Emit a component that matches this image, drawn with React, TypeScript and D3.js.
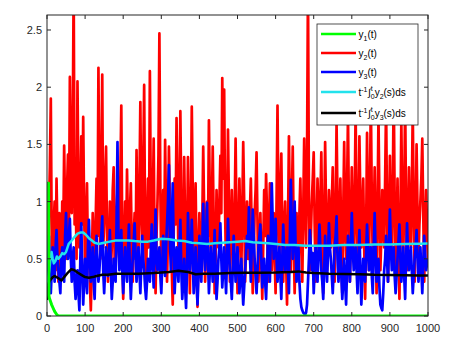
import React from "react";
import * as d3 from "d3";

// ---- data ----
const xTicks = [0, 100, 200, 300, 400, 500, 600, 700, 800, 900, 1000];
const yTicks = [0, 0.5, 1, 1.5, 2, 2.5];
const yTickLabels = ["0", "0.5", "1", "1.5", "2", "2.5"];

const STEP = 2.5; // time spacing of y2 / y3 samples

const y2Values = [
  0.5, 0.3, 0.9, 1.3, 1.9, 0.6, 0.4, 0.8, 1.0, 0.4, 1.2, 0.7, 0.3, 0.9, 0.8, 0.4, 1.0, 0.6, 1.49, 0.9, 0.5, 1.1, 1.41, 0.7, 2.09, 1.3, 0.9, 1.6, 2.9, 0.8, 1.2, 0.5, 2.05, 1.1, 0.6, 1.0, 1.57, 0.8, 1.74, 0.9,
  0.4, 0.8, 1.16, 0.5, 0.7, 0.3, 0.05, 0.4, 0.9, 0.6, 0.3, 0.8, 1.2, 0.7, 2.17, 1.0, 0.5, 1.3, 2.11, 0.6, 0.8, 1.2, 1.48, 0.7, 0.3, 0.6, 1.0, 0.4, 0.6, 1.1, 1.3, 0.5, 0.4, 0.9, 1.1, 0.6, 0.5, 1.2, 1.84, 0.7,
  0.15, 0.6, 1.0, 0.5, 1.28, 0.8, 0.4, 0.9, 1.16, 0.6, 0.3, 0.7, 0.9, 0.5, 1.45, 0.8, 0.5, 1.1, 1.87, 0.9, 0.6, 1.3, 2.02, 0.7, 0.3, 0.8, 1.2, 0.6, 2.14, 1.0, 0.5, 0.9, 1.55, 0.6, 0.2, 0.7, 1.0, 1.4, 2.47, 1.1,
  0.4, 0.8, 1.1, 0.6, 1.54, 0.9, 0.3, 0.7, 1.48, 1.0, 0.6, 0.4, 0.1, 0.7, 1.2, 0.8, 1.73, 1.1, 0.5, 0.9, 1.79, 1.0, 0.7, 0.4, 1.39, 0.8, 0.3, 0.6, 1.39, 0.7, 0.2, 0.9, 1.83, 1.1, 0.5, 0.8, 1.16, 0.5, 0.08, 0.6,
  0.9, 0.5, 0.4, 0.8, 1.48, 0.9, 0.3, 0.6, 1.0, 0.7, 1.71, 1.0, 0.5, 0.9, 1.48, 0.8, 0.2, 0.5, 1.1, 0.7, 0.6, 1.0, 1.4, 0.9, 2.08, 1.2, 1.98, 0.9, 0.4, 0.8, 1.63, 1.0, 0.3, 0.6, 1.1, 0.7, 0.5, 0.9, 1.55, 0.8,
  0.2, 0.7, 1.2, 0.8, 0.4, 0.9, 1.52, 1.0, 0.3, 0.6, 1.0, 0.5, 0.5, 0.9, 1.2, 0.7, 0.2, 0.5, 0.9, 1.1, 1.43, 0.8, 0.3, 0.6, 0.9, 0.5, 0.15, 0.6, 1.1, 0.7, 1.24, 0.9, 0.3, 0.7, 1.16, 0.8, 0.4, 0.7, 0.9, 0.5,
  0.2, 1.0, 1.84, 0.9, 0.5, 1.1, 1.42, 0.7, 0.3, 0.8, 1.0, 0.5, 0.1, 0.8, 1.57, 0.9, 0.4, 1.0, 1.48, 0.7, 0.2, 0.6, 0.9, 0.5, 0.4, 0.9, 1.2, 0.6, 0.3, 0.9, 1.55, 1.0, 0.6, 1.4, 2.9, 1.0, 0.4, 0.7, 1.0, 1.2,
  1.43, 0.8, 0.3, 0.7, 1.2, 0.9, 0.5, 1.0, 1.43, 0.7, 0.2, 0.8, 1.52, 0.9, 0.4, 0.7, 1.1, 0.8, 0.6, 1.0, 1.3, 0.7, 0.3, 0.9, 1.68, 1.0, 0.5, 0.8, 1.2, 0.6, 0.2, 0.9, 1.52, 0.8, 0.5, 1.1, 1.75, 0.9, 0.3, 0.8,
  1.3, 0.8, 0.5, 1.0, 1.8, 0.9, 0.3, 0.8, 1.57, 1.0, 0.6, 0.9, 1.2, 0.6, 0.15, 0.7, 1.6, 0.9, 0.4, 1.1, 1.9, 1.0, 0.5, 0.8, 1.3, 0.7, 0.2, 0.9, 1.75, 1.0, 0.4, 0.7, 1.1, 0.8, 0.6, 1.2, 1.85, 0.9, 0.3, 0.8,
  1.4, 0.8, 0.5, 1.1, 2.0, 1.0, 0.3, 0.7, 1.2, 0.6, 0.15, 0.8, 1.7, 0.9, 0.5, 1.0, 1.9, 0.9, 0.4, 0.8, 1.3, 0.7, 0.6, 1.1, 1.8, 0.9, 0.3, 0.8, 1.5, 0.9, 0.5, 0.8, 1.0, 1.2, 1.55, 0.9, 0.3, 0.7, 1.1, 0.8,
  0.5,
];

const y3Values = [
  0.3, 0.5, 0.7, 0.4, 0.2, 0.4, 0.6, 0.5, 0.3, 0.6, 0.75, 0.5, 0.4, 0.3, 0.2, 0.5, 0.6, 0.4, 0.3, 0.7, 0.9, 0.6, 0.5, 0.7, 0.85, 0.5, 0.3, 0.5, 0.6, 0.3, 0.15, 0.3, 0.4, 0.2, 0.05, 0.5, 0.81, 0.4, 0.1, 0.3,
  0.5, 0.35, 0.2, 0.6, 0.84, 0.5, 0.3, 0.45, 0.6, 0.3, 0.15, 0.5, 0.7, 0.45, 0.3, 0.4, 0.55, 0.7, 0.87, 0.4, 0.2, 0.4, 0.6, 0.45, 0.35, 0.5, 0.75, 0.4, 0.15, 0.3, 0.5, 0.4, 0.3, 0.8, 1.52, 0.7, 0.4, 0.55, 0.75, 0.4,
  0.2, 0.4, 0.6, 0.45, 0.3, 0.55, 0.8, 0.4, 0.15, 0.35, 0.5, 0.65, 0.81, 0.5, 0.3, 0.45, 0.6, 0.4, 0.2, 0.45, 0.7, 0.5, 0.4, 0.25, 0.15, 0.3, 0.5, 0.4, 0.3, 0.6, 0.8, 0.45, 0.25, 0.6, 0.93, 0.5, 0.4, 0.5, 0.6, 0.35,
  0.2, 0.45, 0.7, 0.5, 0.35, 0.6, 0.8, 1.0, 1.32, 0.7, 0.4, 0.8, 1.16, 0.6, 0.2, 0.4, 0.6, 0.45, 0.3, 0.6, 0.84, 0.4, 0.15, 0.3, 0.5, 0.25, 0.07, 0.4, 0.9, 0.6, 0.4, 0.6, 0.84, 0.5, 0.2, 0.4, 0.6, 0.3, 0.1, 0.35,
  0.7, 0.5, 0.3, 0.6, 0.98, 0.6, 0.4, 0.7, 0.99, 0.5, 0.2, 0.4, 0.6, 0.45, 0.3, 0.5, 0.75, 0.4, 0.15, 0.3, 0.5, 0.6, 0.81, 0.5, 0.25, 0.4, 0.6, 0.4, 0.2, 0.5, 0.85, 0.6, 0.4, 0.3, 0.15, 0.4, 0.7, 0.5, 0.3, 0.45,
  0.6, 0.4, 0.2, 0.35, 0.5, 0.3, 0.1, 0.25, 0.4, 0.55, 0.7, 0.6, 0.95, 0.55, 0.3, 0.6, 0.93, 0.7, 0.5, 0.35, 0.2, 0.4, 0.6, 0.7, 0.8, 0.5, 0.25, 0.4, 0.5, 0.3, 0.15, 0.4, 0.7, 0.5, 0.3, 0.7, 1.16, 0.8, 0.5, 0.65,
  0.85, 0.5, 0.3, 0.45, 0.6, 0.35, 0.15, 0.5, 0.8, 0.55, 0.4, 0.5, 0.6, 0.4, 0.2, 0.7, 1.19, 0.8, 0.5, 0.7, 1.0, 0.6, 0.3, 0.5, 0.6, 0.3, 0.15, 0.08, 0.05, 0.03, 0.02, 0.01, 0.03, 0.1, 0.3, 0.5, 0.75, 0.6, 0.4, 0.55,
  0.2, 0.4, 0.6, 0.45, 0.3, 0.55, 0.8, 0.6, 0.4, 0.3, 0.15, 0.4, 0.7, 0.5, 0.3, 0.55, 0.81, 0.6, 0.5, 0.35, 0.2, 0.4, 0.6, 0.7, 0.87, 0.5, 0.3, 0.45, 0.6, 0.35, 0.15, 0.3, 0.5, 0.3, 0.1, 0.4, 0.7, 0.5, 0.3, 0.6,
  0.9, 0.6, 0.4, 0.5, 0.6, 0.4, 0.2, 0.5, 0.75, 0.4, 0.1, 0.3, 0.5, 0.4, 0.3, 0.55, 0.8, 0.6, 0.4, 0.5, 0.6, 0.35, 0.2, 0.6, 0.9, 0.55, 0.3, 0.4, 0.5, 0.25, 0.1, 0.07, 0.05, 0.2, 0.4, 0.5, 0.7, 0.5, 0.3, 0.6,
  0.93, 0.6, 0.4, 0.5, 0.6, 0.35, 0.2, 0.35, 0.5, 0.65, 0.8, 0.5, 0.3, 0.45, 0.6, 0.35, 0.15, 0.5, 0.81, 0.55, 0.4, 0.5, 0.6, 0.4, 0.2, 0.35, 0.5, 0.6, 0.75, 0.5, 0.3, 0.45, 0.6, 0.4, 0.2, 0.45, 0.7, 0.55, 0.4, 0.45,
  0.5,
];

const y1Times = [0, 4, 5, 6, 9, 12, 16, 20, 25, 30, 1000];
const y1Values = [1.16, 1.16, 0.18, 0.16, 0.13, 0.1, 0.07, 0.04, 0.015, 0, 0];

const cyanTimes = [0, 3, 6, 9, 12, 15, 18, 22, 26, 30, 35, 40, 45, 50, 57, 65, 72, 80, 88, 95, 102, 110, 118, 125, 135, 150, 165, 180, 200, 215, 230, 250, 265, 280, 300, 320, 340, 360, 380, 400, 420, 440, 460, 480, 500, 520, 540, 560, 580, 600, 625, 650, 680, 700, 740, 780, 820, 860, 900, 940, 980, 1000];
const cyanValues = [0.27, 0.33, 0.4, 0.5, 0.56, 0.5, 0.46, 0.48, 0.52, 0.5, 0.52, 0.55, 0.54, 0.56, 0.63, 0.66, 0.69, 0.72, 0.73, 0.73, 0.71, 0.68, 0.66, 0.64, 0.63, 0.64, 0.65, 0.66, 0.66, 0.66, 0.655, 0.65, 0.65, 0.66, 0.675, 0.67, 0.66, 0.655, 0.64, 0.635, 0.63, 0.635, 0.64, 0.645, 0.65, 0.655, 0.645, 0.64, 0.635, 0.63, 0.62, 0.62, 0.615, 0.615, 0.615, 0.62, 0.62, 0.625, 0.625, 0.63, 0.632, 0.634];

const blackTimes = [0, 2, 4, 6, 10, 15, 20, 25, 30, 38, 45, 55, 64, 72, 80, 90, 100, 110, 120, 130, 145, 160, 180, 200, 240, 280, 300, 320, 345, 370, 390, 410, 440, 480, 520, 560, 600, 640, 660, 680, 700, 740, 780, 820, 860, 900, 940, 980, 1000];
const blackValues = [0.14, 0.2, 0.28, 0.3, 0.32, 0.34, 0.35, 0.34, 0.33, 0.31, 0.34, 0.38, 0.41, 0.4, 0.38, 0.36, 0.34, 0.335, 0.34, 0.35, 0.36, 0.36, 0.37, 0.37, 0.37, 0.375, 0.38, 0.385, 0.395, 0.385, 0.365, 0.37, 0.37, 0.375, 0.378, 0.378, 0.38, 0.385, 0.39, 0.38, 0.375, 0.37, 0.368, 0.365, 0.36, 0.358, 0.357, 0.355, 0.355];

const legendNames = ["y1", "y2", "y3", "m2", "m3"];
const colors = {
  y1: "#00ff00",
  y2: "#ff0000",
  y3: "#0000ff",
  m2: "#22e2ec",
  m3: "#000000",
};

// ---- layout ----
const W = 472;
const H = 351;
const L = 47, R = 428, T = 15, B = 316;
const FONT = "'Liberation Sans', Arial, Helvetica, sans-serif";
const AX = "#262626";

export default function App() {
  const x = d3.scaleLinear().domain([0, 1000]).range([L, R]);
  const y = d3.scaleLinear().domain([0, 2.631]).range([B, T]);

  const line = d3
    .line<[number, number]>()
    .x((d) => x(d[0]))
    .y((d) => y(d[1]));

  const y2Pts = y2Values.map((v, i) => [i * STEP, v] as [number, number]);
  const y3Pts = y3Values.map((v, i) => [i * STEP, v] as [number, number]);
  const y1Pts = y1Values.map((v, i) => [y1Times[i], v] as [number, number]);
  const cPts = cyanValues.map((v, i) => [cyanTimes[i], v] as [number, number]);
  const kPts = blackValues.map((v, i) => [blackTimes[i], v] as [number, number]);

  const tick = 4;
  const legendYs = [34, 53, 72, 92, 113];

  const sub = 7;
  const renderLabel = (k: string) => {
    if (k === "y1" || k === "y2" || k === "y3") {
      return (
        <>
          <tspan>y</tspan>
          <tspan fontSize={sub} dy={3}>{k.slice(1)}</tspan>
          <tspan dy={-3}>(t)</tspan>
        </>
      );
    }
    const n = k === "m2" ? "2" : "3";
    return (
      <>
        <tspan>t</tspan>
        <tspan fontSize={sub} dy={-4}>-1</tspan>
        <tspan dy={4} dx={0.5}>∫</tspan>
        <tspan fontSize={sub} dy={-5}>t</tspan>
        <tspan fontSize={sub} dx={-2} dy={8}>0</tspan>
        <tspan dy={-3}>y</tspan>
        <tspan fontSize={sub} dy={3}>{n}</tspan>
        <tspan dy={-3}>(s)ds</tspan>
      </>
    );
  };

  return (
    <svg
      width={W}
      height={H}
      style={{ position: "absolute", left: 0, top: 0, background: "#fff" }}
      fontFamily={FONT}
    >
      <defs>
        <clipPath id="plotclip">
          <rect x={L} y={T} width={R - L} height={B - T} />
        </clipPath>
      </defs>
      <rect x={0} y={0} width={W} height={H} fill="#fff" />

      <g clipPath="url(#plotclip)" fill="none" strokeLinejoin="round">
        <path d={line(y2Pts) || ""} stroke={colors.y2} strokeWidth={2.7} />
        <path d={line(y3Pts) || ""} stroke={colors.y3} strokeWidth={2.7} />
        <path d={line(cPts) || ""} stroke={colors.m2} strokeWidth={2.5} />
        <path d={line(kPts) || ""} stroke={colors.m3} strokeWidth={2.5} />
        <path d={line(y1Pts) || ""} stroke={colors.y1} strokeWidth={3} />
      </g>

      {/* axes box */}
      <rect x={L} y={T} width={R - L} height={B - T} fill="none" stroke={AX} strokeWidth={1} />

      {xTicks.map((t) => (
        <g key={"x" + t}>
          <line x1={x(t)} x2={x(t)} y1={B} y2={B - tick} stroke={AX} />
          <line x1={x(t)} x2={x(t)} y1={T} y2={T + tick} stroke={AX} />
          <text x={x(t)} y={332} fontSize={11} textAnchor="middle" fill={AX}>
            {t}
          </text>
        </g>
      ))}
      {yTicks.map((t, i) => (
        <g key={"y" + t}>
          <line x1={L} x2={L + tick} y1={y(t)} y2={y(t)} stroke={AX} />
          <line x1={R} x2={R - tick} y1={y(t)} y2={y(t)} stroke={AX} />
          <text x={42} y={y(t) + 4} fontSize={11} textAnchor="end" fill={AX}>
            {yTickLabels[i]}
          </text>
        </g>
      ))}

      {/* legend */}
      <rect x={317} y={24} width={101} height={101} fill="#fff" stroke={AX} strokeWidth={0.8} />
      {legendNames.map((k, i) => (
        <g key={k}>
          <line x1={321} x2={356} y1={legendYs[i]} y2={legendYs[i]} stroke={(colors as any)[k]} strokeWidth={2.5} />
          <text x={358.5} y={legendYs[i] + 3.5} fontSize={10} fill="#000">
            {renderLabel(k)}
          </text>
        </g>
      ))}
    </svg>
  );
}
